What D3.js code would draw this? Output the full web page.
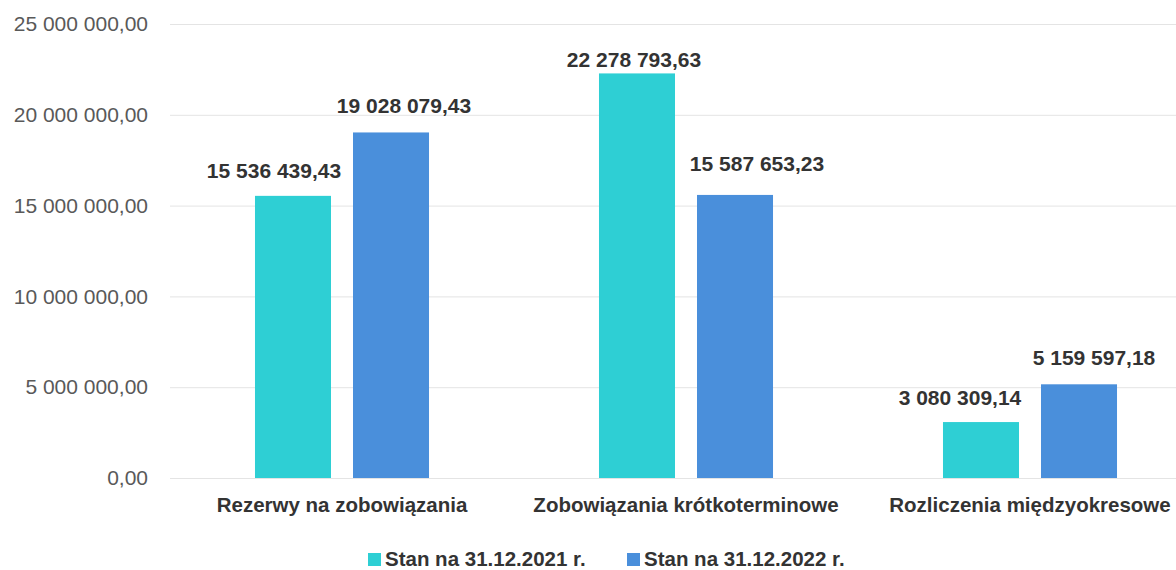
<!DOCTYPE html>
<html>
<head>
<meta charset="utf-8">
<script src="https://cdn.jsdelivr.net/npm/d3@7"></script>
<style>
  body { margin: 0; background: #fff; }
  svg { display: block; }
</style>
</head>
<body>
<div id="chart"></div>
<script>
// chart data
var categories = ["Rezerwy na zobowiązania", "Zobowiązania krótkoterminowe", "Rozliczenia międzyokresowe"];
var seriesNames = ["Stan na 31.12.2021 r.", "Stan na 31.12.2022 r."];
var values2021 = [15536439.43, 22278793.63, 3080309.14];
var values2022 = [19028079.43, 15587653.23, 5159597.18];
var yTicks = [0, 5000000, 10000000, 15000000, 20000000, 25000000];

// layout
var width = 1176;
var height = 570;
var colors = ["#2ecfd4", "#4a8fdb"];
// label nudges [dx, gap above bar] as placed in the original
var labelNudge = [[[-19, 18], [13, 19]], [[-3, 6], [22, 24]], [[-21, 17], [15, 19]]];

var pl = d3.formatLocale({decimal: ",", thousands: "\u00a0", grouping: [3], currency: ["", " zł"]});
var fmt = pl.format(",.2f");

var rows = categories.map(function(c, i) {
  return {cat: c, i: i, vals: [values2021[i], values2022[i]]};
});

var svg = d3.select("#chart").append("svg")
  .attr("width", width)
  .attr("height", height);

var x0 = d3.scaleBand().domain(categories).range([170, 1202]).padding(0);
var x1 = d3.scaleBand().domain([0, 1]).range([0, x0.bandwidth()])
  .paddingInner(0.2245).paddingOuter(0.867);
var y = d3.scaleLinear().domain([0, 25000000]).range([478, 24]);

// y axis + gridlines
var yAxis = d3.axisLeft(y)
  .tickValues(yTicks)
  .tickSize(-(width - 170))
  .tickPadding(22)
  .tickFormat(fmt);

var yg = svg.append("g")
  .attr("transform", "translate(170,0)")
  .call(yAxis);
yg.select(".domain").remove();
yg.selectAll(".tick line").attr("stroke", "#e4e4e4").attr("stroke-width", 1);
yg.selectAll(".tick text")
  .attr("fill", "#595959")
  .style("font-family", "'Liberation Sans', Arial, sans-serif")
  .style("font-size", "21px");

// bars
var groups = svg.append("g").selectAll("g")
  .data(rows)
  .enter().append("g")
  .attr("transform", function(d) { return "translate(" + x0(d.cat) + ",0)"; });

groups.selectAll("rect")
  .data(function(d) { return d.vals.map(function(v, s) { return {v: v, s: s, i: d.i}; }); })
  .enter().append("rect")
  .attr("x", function(d) { return x1(d.s); })
  .attr("width", x1.bandwidth())
  .attr("y", function(d) { return y(d.v); })
  .attr("height", function(d) { return y(0) - y(d.v); })
  .attr("fill", function(d) { return colors[d.s]; });

groups.selectAll("text.val")
  .data(function(d) { return d.vals.map(function(v, s) { return {v: v, s: s, i: d.i}; }); })
  .enter().append("text")
  .attr("class", "val")
  .attr("x", function(d) { return x1(d.s) + x1.bandwidth() / 2 + labelNudge[d.i][d.s][0]; })
  .attr("y", function(d) { return y(d.v) - labelNudge[d.i][d.s][1]; })
  .attr("text-anchor", "middle")
  .attr("fill", "#333")
  .style("font-family", "'Liberation Sans', Arial, sans-serif")
  .style("font-weight", "bold")
  .style("font-size", "21px")
  .text(function(d) { return fmt(d.v); });

// category labels
svg.append("g").selectAll("text")
  .data(categories)
  .enter().append("text")
  .attr("x", function(d) { return x0(d) + x0.bandwidth() / 2; })
  .attr("y", 512)
  .attr("text-anchor", "middle")
  .attr("fill", "#333")
  .style("font-family", "'Liberation Sans', Arial, sans-serif")
  .style("font-weight", "bold")
  .style("font-size", "20.5px")
  .text(function(d) { return d; });

// legend
var legendX = [368, 627];
var legend = svg.append("g").selectAll("g")
  .data(seriesNames)
  .enter().append("g")
  .attr("transform", function(d, i) { return "translate(" + legendX[i] + ",553)"; });

legend.append("rect")
  .attr("width", 13)
  .attr("height", 13)
  .attr("fill", function(d, i) { return colors[i]; });

legend.append("text")
  .attr("x", 17)
  .attr("y", 13)
  .attr("fill", "#333")
  .style("font-family", "'Liberation Sans', Arial, sans-serif")
  .style("font-weight", "bold")
  .style("font-size", "20.5px")
  .text(function(d) { return d; });
</script>
</body>
</html>
